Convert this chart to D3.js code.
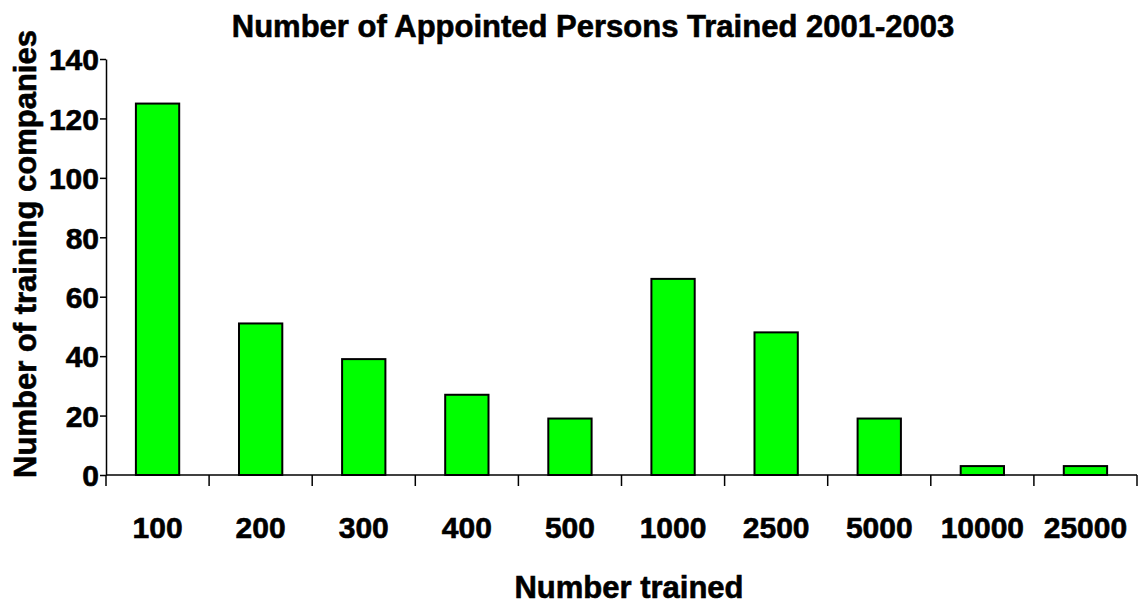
<!DOCTYPE html>
<html>
<head>
<meta charset="utf-8">
<script src="https://cdn.jsdelivr.net/npm/d3@7"></script>
<style>
  body { margin: 0; background: #fff; }
  text { font-family: "Liberation Sans", Arial, sans-serif; font-weight: bold; fill: #000; stroke: #000; stroke-width: 0.6px; }
</style>
</head>
<body>
<div id="chart"></div>
<script>
// data
const categories = ["100", "200", "300", "400", "500", "1000", "2500", "5000", "10000", "25000"];
const companies = [125, 51, 39, 27, 19, 66, 48, 19, 3, 3];
const yTicks = [0, 20, 40, 60, 80, 100, 120, 140];

// svg
const width = 1145;
const height = 606;
const margin = { top: 59, right: 8, bottom: 131, left: 106 };

const svg = d3.select("#chart")
  .append("svg")
  .attr("width", width)
  .attr("height", height);

// scales
const xScale = d3.scaleBand()
  .domain(categories)
  .range([margin.left, width - margin.right])
  .padding(0);

const yScale = d3.scaleLinear()
  .domain([0, 140])
  .range([height - margin.bottom, margin.top]);

const barW = xScale.bandwidth() * 0.42;

// bars
svg.selectAll("rect.bar")
  .data(categories)
  .enter()
  .append("rect")
  .attr("class", "bar")
  .attr("x", (d) => xScale(d) + (xScale.bandwidth() - barW) / 2)
  .attr("y", (d, i) => yScale(companies[i]))
  .attr("width", barW)
  .attr("height", (d, i) => yScale(0) - yScale(companies[i]))
  .attr("fill", "#00ff00")
  .attr("stroke", "#000")
  .attr("stroke-width", 2);

// y axis
const yAxis = d3.axisLeft(yScale)
  .tickValues(yTicks)
  .tickSize(6)
  .tickPadding(1)
  .tickSizeOuter(0);

const gy = svg.append("g")
  .attr("class", "y-axis")
  .attr("transform", `translate(${margin.left},0)`)
  .call(yAxis);
gy.selectAll("text")
  .style("font-size", "30px")
  .attr("dy", "0.36em");
gy.selectAll("line, path").attr("stroke", "#000").attr("stroke-width", 1.5);

// x axis - ticks at band boundaries
const gx = svg.append("g")
  .attr("class", "x-axis")
  .attr("transform", `translate(0,${yScale(0)})`);
gx.append("line")
  .attr("x1", margin.left)
  .attr("x2", width - margin.right)
  .attr("stroke", "#000")
  .attr("stroke-width", 1.5);
const bounds = categories.map((d) => xScale(d)).concat([xScale.range()[1]]);
gx.selectAll("line.tick")
  .data(bounds)
  .enter()
  .append("line")
  .attr("class", "tick")
  .attr("x1", (d) => d)
  .attr("x2", (d) => d)
  .attr("y1", 0)
  .attr("y2", 11)
  .attr("stroke", "#000")
  .attr("stroke-width", 1.5);
gx.selectAll("text")
  .data(categories)
  .enter()
  .append("text")
  .attr("x", (d) => xScale(d) + xScale.bandwidth() / 2)
  .attr("y", 63)
  .attr("text-anchor", "middle")
  .style("font-size", "30px")
  .text((d) => d);

// title + axis labels
svg.append("text")
  .attr("x", 593)
  .attr("y", 37)
  .attr("text-anchor", "middle")
  .style("font-size", "31px")
  .text("Number of Appointed Persons Trained 2001-2003");

svg.append("text")
  .attr("x", 629)
  .attr("y", 598)
  .attr("text-anchor", "middle")
  .style("font-size", "31px")
  .text("Number trained");

svg.append("text")
  .attr("transform", "translate(36,254) rotate(-90)")
  .attr("text-anchor", "middle")
  .style("font-size", "31px")
  .text("Number of training companies");
</script>
</body>
</html>
